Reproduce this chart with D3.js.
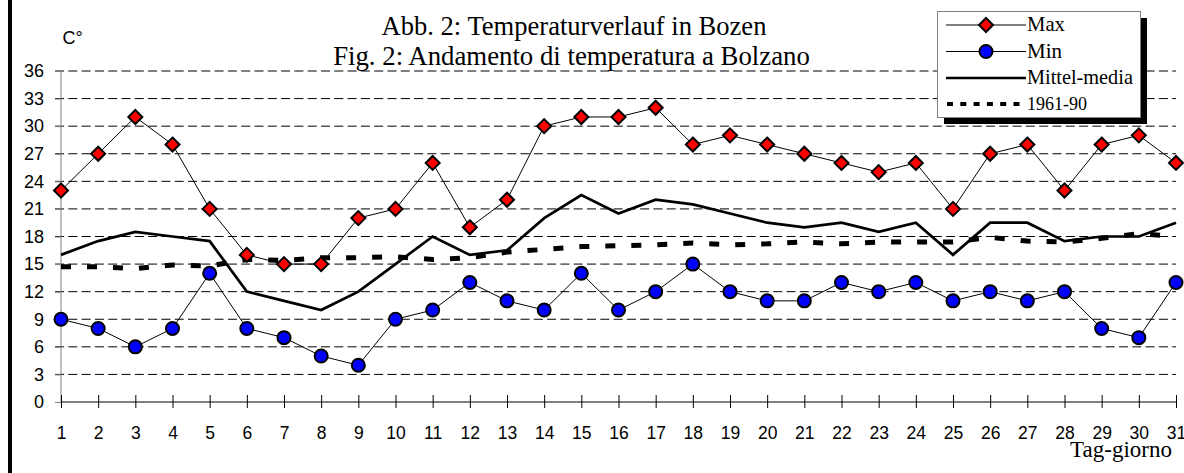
<!DOCTYPE html>
<html>
<head>
<meta charset="utf-8">
<script src="https://cdn.jsdelivr.net/npm/d3@7"></script>
<style>
  html, body { margin: 0; padding: 0; background: #fff; }
  svg { display: block; }
</style>
</head>
<body>
<svg id="chart" width="1184" height="473"></svg>
<script>
// ---- data ----
const days = [1,2,3,4,5,6,7,8,9,10,11,12,13,14,15,16,17,18,19,20,21,22,23,24,25,26,27,28,29,30,31];
const maxTemp = [23,27,31,28,21,16,15,15,20,21,26,19,22,30,31,31,32,28,29,28,27,26,25,26,21,27,28,23,28,29,26];
const minTemp = [9,8,6,8,14,8,7,5,4,9,10,13,11,10,14,10,12,15,12,11,11,13,12,13,11,12,11,12,8,7,13];
const meanTemp = [16,17.5,18.5,18,17.5,12,11,10,12,15,18,16,16.5,20,22.5,20.5,22,21.5,20.5,19.5,19,19.5,18.5,19.5,16,19.5,19.5,17.5,18,18,19.5];
const normTemp = [14.7,14.7,14.5,14.9,14.8,15.5,15.4,15.7,15.7,15.8,15.5,15.7,16.3,16.6,16.9,17.0,17.1,17.3,17.1,17.2,17.4,17.2,17.4,17.4,17.4,17.9,17.5,17.4,17.8,18.3,18.0];
const yTicks = [0,3,6,9,12,15,18,21,24,27,30,33,36];
const titleLines = ["Abb. 2: Temperaturverlauf in Bozen", "Fig. 2: Andamento di temperatura a Bolzano"];
const yUnit = "C°";
const xTitle = "Tag-giorno";
const legendLabels = ["Max", "Min", "Mittel-media", "1961-90"];

// ---- layout ----
const svg = d3.select("#chart");
const x = d3.scaleLinear().domain([1, 31]).range([61, 1176]);
const y = d3.scaleLinear().domain([0, 36]).range([402, 71]);
const serif = "'Liberation Serif', 'Times New Roman', serif";
const sans = "'Liberation Sans', Arial, sans-serif";

function fitText(sel, target) {
  const node = sel.node();
  const w = node.getComputedTextLength();
  const fs = parseFloat(sel.attr("font-size"));
  sel.attr("font-size", (fs * target / w).toFixed(2));
}

// left frame border
svg.append("line").attr("x1", 10).attr("x2", 10).attr("y1", 0).attr("y2", 473)
  .attr("stroke", "#000").attr("stroke-width", 4);

// gridlines
svg.append("g").selectAll("line").data(yTicks.filter(d => d > 0)).join("line")
  .attr("x1", 55).attr("x2", x(31))
  .attr("y1", d => y(d)).attr("y2", d => y(d))
  .attr("stroke", "#000").attr("stroke-width", 1)
  .attr("stroke-dasharray", "9,4.3");

// y axis
const yAxis = svg.append("g").attr("transform", `translate(${x(1)},0)`)
  .call(d3.axisLeft(y).tickValues(yTicks).tickSize(6).tickPadding(11));
yAxis.select(".domain").attr("stroke", "#808080").attr("d", `M0,${y(36)}V${y(0)}`);
yAxis.selectAll(".tick line").attr("stroke", "#808080");
yAxis.selectAll(".tick text").attr("font-family", sans).attr("font-size", 18).attr("fill", "#000");

// x axis
const xAxis = svg.append("g").attr("transform", `translate(0,${y(0)})`)
  .call(d3.axisBottom(x).tickValues(days).tickFormat(d3.format("d")).tickSize(6).tickPadding(18.6));
xAxis.select(".domain").attr("stroke", "#000").attr("d", `M${x(1)},0H${x(31)}`);
xAxis.selectAll(".tick line").attr("y1", -7).attr("y2", 6).attr("stroke", "#000");
xAxis.selectAll(".tick text").attr("font-family", sans).attr("font-size", 17.5).attr("fill", "#000");

// unit label
svg.append("text").attr("x", 62.5).attr("y", 43.5).attr("font-family", sans).attr("font-size", 18).text(yUnit);

// titles
const t1 = svg.append("text").attr("x", 574).attr("y", 35).attr("text-anchor", "middle")
  .attr("font-family", serif).attr("font-size", 22).text(titleLines[0]);
fitText(t1, 385);
const t2 = svg.append("text").attr("x", 571.5).attr("y", 65).attr("text-anchor", "middle")
  .attr("font-family", serif).attr("font-size", 22).text(titleLines[1]);
fitText(t2, 477);

// x title
const xt = svg.append("text").attr("x", 1172).attr("y", 457).attr("text-anchor", "end")
  .attr("font-family", serif).attr("font-size", 18).text(xTitle);
fitText(xt, 102);

// series lines
const line = d3.line().x((d, i) => x(days[i])).y(d => y(d));
svg.append("path").datum(normTemp).attr("d", line).attr("fill", "none")
  .attr("stroke", "#000").attr("stroke-width", 5).attr("stroke-dasharray", "10,16");
svg.append("path").datum(meanTemp).attr("d", line).attr("fill", "none")
  .attr("stroke", "#000").attr("stroke-width", 2.7).attr("stroke-linejoin", "miter");
svg.append("path").datum(maxTemp).attr("d", line).attr("fill", "none")
  .attr("stroke", "#000").attr("stroke-width", 1);
svg.append("path").datum(minTemp).attr("d", line).attr("fill", "none")
  .attr("stroke", "#000").attr("stroke-width", 1);

const diamond = (cx, cy, r) => `M${cx},${cy - r}L${cx + r},${cy}L${cx},${cy + r}L${cx - r},${cy}Z`;

svg.append("g").selectAll("path").data(maxTemp).join("path")
  .attr("d", (d, i) => diamond(x(days[i]), y(d), 7))
  .attr("fill", "#ff0000").attr("stroke", "#000").attr("stroke-width", 2);
svg.append("g").selectAll("circle").data(minTemp).join("circle")
  .attr("cx", (d, i) => x(days[i])).attr("cy", d => y(d)).attr("r", 6.5)
  .attr("fill", "#0000ff").attr("stroke", "#000").attr("stroke-width", 2);

// legend
const lg = svg.append("g");
lg.append("rect").attr("x", 944).attr("y", 18).attr("width", 203).attr("height", 106).attr("fill", "#000");
lg.append("rect").attr("x", 937.5).attr("y", 11.5).attr("width", 203).attr("height", 106)
  .attr("fill", "#fff").attr("stroke", "#808080").attr("stroke-width", 1);
const rowsY = [25, 51.5, 78, 104];
const lx1 = 946, lx2 = 1026;
// Max
lg.append("line").attr("x1", lx1).attr("x2", lx2).attr("y1", rowsY[0]).attr("y2", rowsY[0]).attr("stroke", "#000").attr("stroke-width", 1);
lg.append("path").attr("d", diamond((lx1 + lx2) / 2, rowsY[0], 7)).attr("fill", "#ff0000").attr("stroke", "#000").attr("stroke-width", 2);
// Min
lg.append("line").attr("x1", lx1).attr("x2", lx2).attr("y1", rowsY[1]).attr("y2", rowsY[1]).attr("stroke", "#000").attr("stroke-width", 1);
lg.append("circle").attr("cx", (lx1 + lx2) / 2).attr("cy", rowsY[1]).attr("r", 6.5).attr("fill", "#0000ff").attr("stroke", "#000").attr("stroke-width", 2);
// Mittel
lg.append("line").attr("x1", lx1).attr("x2", lx2).attr("y1", rowsY[2]).attr("y2", rowsY[2]).attr("stroke", "#000").attr("stroke-width", 2.7);
// 1961-90
lg.append("line").attr("x1", lx1 + 1).attr("x2", lx2).attr("y1", rowsY[3]).attr("y2", rowsY[3]).attr("stroke", "#000").attr("stroke-width", 4).attr("stroke-dasharray", "6,7.3");
const legendWidths = [38, 35, 106, 60];
legendLabels.forEach((t, i) => {
  const tx = lg.append("text").attr("x", 1027).attr("y", rowsY[i] + 6).attr("font-family", serif)
    .attr("font-size", 18).text(t);
  fitText(tx, legendWidths[i]);
});
</script>
</body>
</html>
